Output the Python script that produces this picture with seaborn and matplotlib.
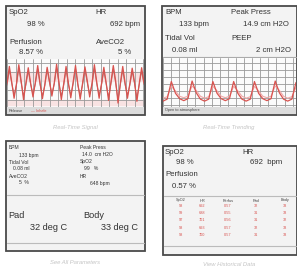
import numpy as np
import pandas as pd
import matplotlib.pyplot as plt
import matplotlib.patches as patches
import seaborn as sns

# ─── DATA ───────────────────────────────────────────────
signal_red = [0.50, 0.88, 0.52, 0.15, 0.48, 0.92, 0.55, 0.12, 0.50, 0.85, 0.50, 0.18,
              0.52, 0.90, 0.50, 0.14, 0.46, 0.86, 0.55, 0.20, 0.50, 0.93, 0.52, 0.12,
              0.48, 0.88, 0.50, 0.16, 0.52, 0.90, 0.48, 0.13, 0.50, 0.87, 0.55, 0.18,
              0.50, 0.92, 0.52, 0.15, 0.48, 0.86, 0.50, 0.10, 0.52, 0.90, 0.55, 0.04,
              0.50, 0.88, 0.50, 0.15, 0.48, 0.84, 0.52, 0.08, 0.50, 0.85, 0.50]
signal_gray = [0.45, 0.80, 0.50, 0.22, 0.45, 0.84, 0.50, 0.20, 0.46, 0.78, 0.47, 0.24,
               0.48, 0.82, 0.46, 0.20, 0.44, 0.80, 0.50, 0.25, 0.47, 0.85, 0.48, 0.20,
               0.45, 0.80, 0.47, 0.22, 0.48, 0.83, 0.45, 0.20, 0.46, 0.80, 0.50, 0.24,
               0.46, 0.84, 0.48, 0.22, 0.45, 0.78, 0.47, 0.18, 0.48, 0.82, 0.50, 0.12,
               0.46, 0.80, 0.46, 0.22, 0.45, 0.77, 0.48, 0.16, 0.46, 0.78, 0.46]

trend_red = [0.12, 0.16, 0.52, 0.28, 0.17, 0.13, 0.17, 0.53, 0.29, 0.16, 0.12, 0.16, 0.52,
             0.28, 0.17, 0.13, 0.17, 0.52, 0.28, 0.16, 0.12, 0.16, 0.52, 0.28, 0.17, 0.13,
             0.17, 0.53, 0.29, 0.16, 0.12, 0.16, 0.50]
trend_pink = [0.18, 0.21, 0.42, 0.33, 0.22, 0.19, 0.22, 0.43, 0.34, 0.22, 0.18, 0.21, 0.42,
              0.33, 0.22, 0.19, 0.22, 0.42, 0.33, 0.22, 0.18, 0.21, 0.42, 0.33, 0.22, 0.19,
              0.22, 0.43, 0.34, 0.22, 0.18, 0.21, 0.40]

hist_cols = ["SpO2", "HR", "Perfus", "Pad", "Body"]
hist_spo2 = ["98", "99", "97", "98", "98"]
hist_hr = ["692", "688", "701", "693", "700"]
hist_perf = ["0.57", "0.55", "0.56", "0.57", "0.57"]
hist_pad = ["32", "31", "31", "32", "31"]
hist_body = ["33", "33", "32", "33", "33"]

captions = ["Real-Time Signal", "Real-Time Trending", "See All Parameters", "View Historical Data"]

# ─── SETUP ──────────────────────────────────────────────
sns.set_style("white")
plt.rcParams['font.family'] = ['Liberation Sans', 'DejaVu Sans']

W, H = 297, 269
fig = plt.figure(figsize=(W / 100, H / 100), dpi=100)
ax = fig.add_axes([0, 0, 1, 1])
ax.set_xlim(0, W)
ax.set_ylim(H, 0)
ax.axis("off")

RED = "#d9534f"
TXT = "#333333"
BORDER = "#4a4a4a"
CAP = "#c4c4c4"
MAIN = 5.6


def frame(x0, y0, x1, y1):
    ax.add_patch(patches.Rectangle((x0, y0), x1 - x0, y1 - y0, facecolor="#f3f3f3",
                                   edgecolor=BORDER, lw=1.3, zorder=1))


def hline(y, x0, x1, c="#bbbbbb", lw=0.8):
    ax.plot([x0, x1], [y, y], color=c, lw=lw, zorder=2)


def txt(x, y, s, size=MAIN, color=TXT, **kw):
    ax.text(x, y, s, fontsize=size, color=color, va="center", ha="left", zorder=5, **kw)


def inset(x0, y0, x1, y1):
    a = fig.add_axes([x0 / W, 1 - y1 / H, (x1 - x0) / W, (y1 - y0) / H])
    a.set_facecolor("#fbfbfb")
    for s in a.spines.values():
        s.set_visible(False)
    a.set_xticks([])
    a.set_yticks([])
    return a


# ─── PANEL 1: REAL-TIME SIGNAL ──────────────────────────
frame(6, 6, 145, 115)
txt(9, 13, "SpO2")
txt(27, 25, "98 %")
txt(95, 13, "HR")
txt(110, 25, "692 bpm")
txt(9, 43, "Perfusion")
txt(19, 53, "8.57 %")
txt(96, 43, "AveCO2")
txt(118, 53, "5 %")

a1 = inset(7, 59, 144, 107)
a1.axhspan(0.55, 0.75, color="#f9e3e3", zorder=0)
a1.axhspan(0.0, 0.12, color="#f9e3e3", zorder=0)
df1 = pd.DataFrame({"t": range(len(signal_red)), "red": signal_red, "gray": signal_gray})
for v in np.arange(0, len(signal_red), 3.6):
    a1.axvline(v, color="#9a9a9a", lw=0.6, zorder=1)
for h in [0.12, 0.35, 0.75, 0.95]:
    a1.axhline(h, color="#9a9a9a", lw=0.6, zorder=1)
sns.lineplot(data=df1, x="t", y="gray", ax=a1, color="#b07070", lw=0.7, zorder=2)
sns.lineplot(data=df1, x="t", y="red", ax=a1, color=RED, lw=0.9, zorder=3)
a1.set_xlim(0, len(signal_red) - 1)
a1.set_ylim(-0.05, 1.05)
a1.set_xlabel("")
a1.set_ylabel("")

ax.add_patch(patches.Rectangle((7, 107), 137, 7, facecolor="#dcdcdc", edgecolor="none", zorder=2))
txt(9, 110.5, "Release", size=2.8, color="#444444")
txt(31, 110.5, "— Inhale", size=2.8, color=RED)

# ─── PANEL 2: REAL-TIME TRENDING ────────────────────────
frame(162, 6, 297, 115)
txt(165, 13, "BPM")
txt(179, 25, "133 bpm")
txt(231, 13, "Peak Press")
txt(243, 25, "14.9 cm H2O")
txt(165, 38, "Tidal Vol")
txt(172, 50, "0.08 ml")
txt(231, 38, "PEEP")
txt(256, 50, "2 cm H2O")
hline(57, 163, 296, c="#aaaaaa")

a2 = inset(163, 58, 296, 107)
df2 = pd.DataFrame({"t": range(len(trend_red)), "red": trend_red, "pink": trend_pink})
for v in np.arange(0, len(trend_red), 1.95):
    a2.axvline(v, color="#9a9a9a", lw=0.6, zorder=1)
for h in np.arange(0.05, 1.0, 0.14):
    a2.axhline(h, color="#9a9a9a", lw=0.6, zorder=1)
sns.lineplot(data=df2, x="t", y="pink", ax=a2, color="#f0a8a8", lw=0.8, zorder=2)
sns.lineplot(data=df2, x="t", y="red", ax=a2, color=RED, lw=0.9, zorder=3)
a2.set_xlim(0, len(trend_red) - 1)
a2.set_ylim(0, 1)
a2.set_xlabel("")
a2.set_ylabel("")

ax.add_patch(patches.Rectangle((163, 107), 133, 7, facecolor="#dcdcdc", edgecolor="none", zorder=2))
txt(165, 110.5, "Open to atmosphere", size=2.8, color="#444444")

# ─── PANEL 3: SEE ALL PARAMETERS ────────────────────────
frame(6, 141, 145, 251)
small = 3.6
txt(9, 147.5, "BPM", size=small)
txt(19, 155, "133 bpm", size=small)
txt(80, 147.5, "Peak Press", size=small)
txt(82, 155, "14.0  cm H2O", size=small)
txt(9, 162, "Tidal Vol", size=small)
txt(13, 169, "0.08 ml", size=small)
txt(80, 162, "SpO2", size=small)
txt(84, 169, "99   %", size=small)
txt(9, 176, "AveCO2", size=small)
txt(19, 183, "5  %", size=small)
txt(80, 176, "HR", size=small)
txt(90, 183, "648 bpm", size=small)
hline(195, 7, 144)
txt(8, 215, "Pad", size=6.6)
txt(83, 215, "Body", size=6.6)
txt(30, 228, "32 deg C", size=6.6)
txt(101, 228, "33 deg C", size=6.6)
hline(243, 7, 144)

# ─── PANEL 4: VIEW HISTORICAL DATA ──────────────────────
frame(163, 146, 297, 255)
txt(165, 152, "SpO2")
txt(176, 163, "98 %")
txt(242, 152, "HR")
txt(250, 163, "692  bpm")
txt(165, 174, "Perfusion")
txt(172, 186, "0.57 %")
hline(196, 164, 296)

col_x = [181, 202, 228, 256, 285]
cols = [hist_spo2, hist_hr, hist_perf, hist_pad, hist_body]
for cx, name in zip(col_x, hist_cols):
    ax.text(cx, 200.5, name, fontsize=2.8, color="#444444", ha="center", va="center", zorder=5)
for cx, vals in zip(col_x, cols):
    for i, v in enumerate(vals):
        ax.text(cx, 206 + i * 7.2, v, fontsize=2.8, color=RED, ha="center", va="center", zorder=5)
hline(246, 164, 296)

# ─── CAPTIONS ───────────────────────────────────────────
for (cx, cy), s in zip([(75, 127), (229, 127), (75, 262), (229, 265)], captions):
    ax.text(cx, cy, s, fontsize=4.2, color=CAP, style="italic", ha="center", va="center")

fig.savefig("out.png", dpi=100)
